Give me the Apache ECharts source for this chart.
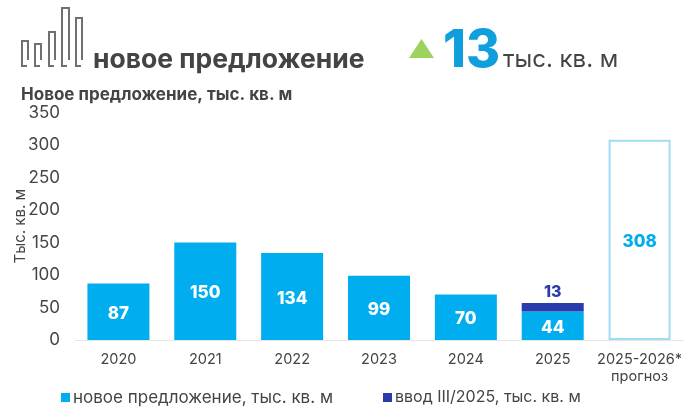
<!DOCTYPE html>
<html>
<head>
<meta charset="utf-8">
<style>
    html, body { margin: 0; padding: 0; background: #fff; }
    #chart { width: 690px; height: 410px; }
</style>
<script src="https://cdn.jsdelivr.net/npm/echarts@6/dist/echarts.min.js"></script>
</head>
<body>
<div id="chart"></div>
<script>
    const categories = ['2020', '2021', '2022', '2023', '2024', '2025', '2025-2026*\nпрогноз']
    const newSupply = [87, 150, 134, 99, 70, 44, null]
    const delivered = [null, null, null, null, null, 13, null]
    const forecast = [null, null, null, null, null, null, 308]
    const logoBars = [[22, 28, 41, 66], [35, 41, 44, 66], [49, 55, 32, 66], [62, 69, 8, 66], [76, 82, 18, 66]]
    const legendNames = ['новое предложение, тыс. кв. м', 'ввод III/2025, тыс. кв. м']

    const font = 'Inter, "Noto Sans", sans-serif'
    const blue = '#00aeef'
    const dark = '#2a3cab'
    const gray = '#444444'

    const chart = echarts.init(document.getElementById('chart'))

    // логотип и шапка
    const logo = logoBars.map(b => ({
        type: 'polyline',
        shape: {points: [[b[0] + 5, b[3]], [b[0], b[3]], [b[0], b[2]], [b[1], b[2]], [b[1], b[3] - 6]]},
        style: {stroke: '#707070', lineWidth: 2, fill: null}
    }))

    const option = {
        animation: false,
        backgroundColor: '#fff',
        textStyle: {fontFamily: font},
        graphic: [
            ...logo,
            {type: 'text', left: 93, top: 47, style: {text: 'новое предложение', font: 'bold 26.5px ' + font, fill: gray}},
            {type: 'polygon', shape: {points: [[409, 58], [434, 58], [421.5, 39]]}, style: {fill: '#9bd35c'}},
            {type: 'text', left: 443, top: 25, style: {text: '13', font: '800 52px ' + font, fill: '#0f9fdc'}},
            {type: 'text', left: 503, top: 48, style: {text: 'тыс. кв. м', font: '24px ' + font, fill: gray}},
            {type: 'text', left: 21, top: 86, style: {text: 'Новое предложение, тыс. кв. м', font: 'bold 17px ' + font, fill: gray}}
        ],
        legend: {
            left: 56,
            top: 384,
            itemWidth: 9,
            itemHeight: 9,
            itemGap: 50,
            icon: 'rect',
            data: legendNames,
            formatter: name => (name === legendNames[0] ? '{a|' : '{b|') + name + '}',
            textStyle: {
                color: gray,
                fontFamily: font,
                padding: [0, 0, 0, -2],
                rich: {a: {fontSize: 17, color: gray}, b: {fontSize: 16, color: gray}}
            }
        },
        grid: {left: 75, right: 7, top: 112.5, bottom: 70, outerBoundsMode: 'none'},
        xAxis: {
            type: 'category',
            data: categories,
            axisTick: {show: false},
            axisLine: {lineStyle: {color: '#e6e6e6'}},
            axisLabel: {color: gray, fontSize: 14.5, margin: 11, lineHeight: 17, interval: 0}
        },
        yAxis: {
            type: 'value',
            min: 0,
            max: 350,
            interval: 50,
            name: 'Тыс. кв. м',
            nameLocation: 'middle',
            nameRotate: 90,
            nameGap: 47,
            nameMoveOverlap: false,
            nameTextStyle: {color: gray, fontSize: 15},
            splitLine: {show: false},
            axisLine: {show: false},
            axisTick: {show: false},
            axisLabel: {color: gray, fontSize: 17, margin: 15}
        },
        series: [
            {
                name: legendNames[0],
                type: 'bar',
                stack: 'total',
                barWidth: 62,
                data: newSupply,
                itemStyle: {color: blue},
                label: {show: true, position: 'inside', offset: [0, 2], color: '#fff', fontSize: 17, fontWeight: 800}
            },
            {
                name: legendNames[1],
                type: 'bar',
                stack: 'total',
                data: delivered,
                itemStyle: {color: dark},
                label: {show: true, position: 'top', color: dark, fontSize: 16, fontWeight: 800, distance: 3}
            },
            {
                name: 'прогноз',
                type: 'bar',
                stack: 'total',
                data: forecast,
                itemStyle: {color: '#fff', borderColor: '#9fdcf7', borderWidth: 2},
                label: {show: true, position: 'inside', offset: [0, 2], color: blue, fontSize: 17, fontWeight: 800}
            }
        ]
    }
    chart.setOption(option)
    window.addEventListener('resize', () => chart.resize())
</script>
</body>
</html>
